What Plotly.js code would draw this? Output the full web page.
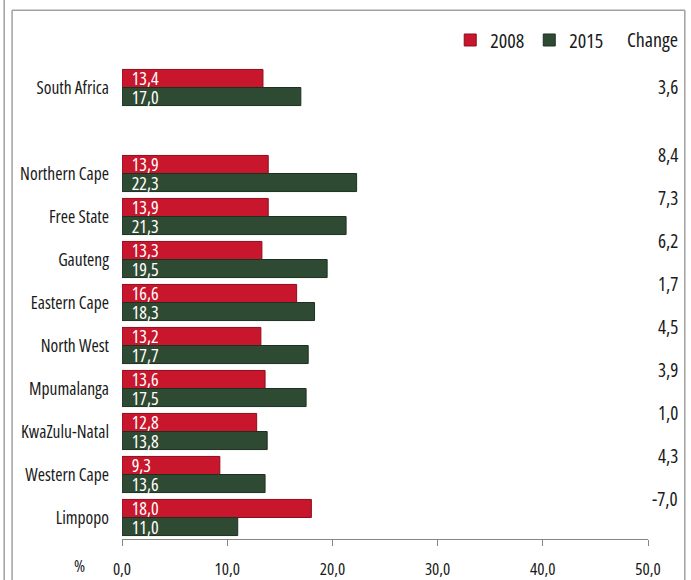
<!DOCTYPE html>
<html>
<head>
<meta charset="utf-8">
<script src="https://cdn.plot.ly/plotly-3.0.1.min.js"></script>
<style>
html,body{margin:0;padding:0;background:#fff;}
#chart{width:691px;height:580px;}
svg text{font-stretch:condensed !important;}
</style>
</head>
<body>
<div id="chart"></div>
<script>
// ---- data ----
const categories = ['South Africa', ' ', 'Northern Cape', 'Free State', 'Gauteng', 'Eastern Cape',
  'North West', 'Mpumalanga', 'KwaZulu-Natal', 'Western Cape', 'Limpopo'];
const regions = ['South Africa', 'Northern Cape', 'Free State', 'Gauteng', 'Eastern Cape',
  'North West', 'Mpumalanga', 'KwaZulu-Natal', 'Western Cape', 'Limpopo'];
const values2008 = [13.4, 13.9, 13.9, 13.3, 16.6, 13.2, 13.6, 12.8, 9.3, 18.0];
const values2015 = [17.0, 22.3, 21.3, 19.5, 18.3, 17.7, 17.5, 13.8, 13.6, 11.0];
const changeLabels = ['3,6', '8,4', '7,3', '6,2', '1,7', '4,5', '3,9', '1,0', '4,3', '-7,0'];
const seriesNames = ['2008', '2015'];
const xTicks = [0, 10, 20, 30, 40, 50];

const FONT = '"Open Sans", "Liberation Sans Narrow", sans-serif';
const textColor = '#1a1a1a';
const frameGray = '#a0a0a0';

const traces = [
  {name: seriesNames[0], values: values2008, color: '#c8162c', line: '#8e0d1d'},
  {name: seriesNames[1], values: values2015, color: '#2f4a32', line: '#1e3020'}
].map(s => ({
  type: 'bar',
  orientation: 'h',
  name: s.name,
  y: regions,
  x: s.values,
  marker: {color: s.color, line: {color: s.line, width: 1}},
  texttemplate: '\u00a0\u00a0%{x:.1f}',
  textposition: 'inside',
  insidetextanchor: 'start',
  constraintext: 'none',
  textfont: {family: FONT, size: 18, color: '#ffffff'},
  hoverinfo: 'none'
}));

const annotations = regions.map((r, i) => ({
  xref: 'paper', yref: 'y',
  x: 1.061, y: r,
  xanchor: 'right', yanchor: 'middle',
  yshift: i === 0 ? 1 : 19,
  text: changeLabels[i],
  showarrow: false,
  font: {family: FONT, size: 19, color: textColor}
}));
annotations.push({
  xref: 'paper', yref: 'paper', x: 1.061, y: 1.055,
  xanchor: 'right', yanchor: 'middle',
  text: 'Change', showarrow: false,
  font: {family: FONT, size: 20, color: textColor}
});
annotations.push({
  xref: 'paper', yref: 'paper', x: -0.08, y: -0.055,
  xanchor: 'center', yanchor: 'middle',
  text: '%', showarrow: false,
  font: {family: FONT, size: 17, color: textColor}
});

const shapes = [
  {type: 'line', xref: 'paper', yref: 'paper', x0: -0.209, x1: -0.209, y0: -0.2, y1: 1.118, line: {color: frameGray, width: 1.5}},
  {type: 'line', xref: 'paper', yref: 'paper', x0: -0.209, x1: 1.070, y0: 1.118, y1: 1.118, line: {color: frameGray, width: 1.5}},
  {type: 'line', xref: 'paper', yref: 'paper', x0: 1.070, x1: 1.070, y0: -0.2, y1: 1.118, line: {color: frameGray, width: 1.5}},
  {type: 'line', xref: 'paper', yref: 'paper', x0: -0.224, x1: -0.224, y0: -0.2, y1: 1.2, line: {color: frameGray, width: 1.5}}
];

const layout = {
  width: 691, height: 580,
  margin: {l: 122, r: 43, t: 66, b: 41, autoexpand: false},
  paper_bgcolor: '#ffffff', plot_bgcolor: '#ffffff',
  separators: ',.',
  barmode: 'group',
  bargap: 0.16,
  bargroupgap: 0,
  showlegend: true,
  legend: {
    orientation: 'h', x: 0.624, y: 1.055, xanchor: 'left', yanchor: 'middle',
    font: {family: FONT, size: 20, color: textColor},
    itemwidth: 30, tracegroupgap: 0, bgcolor: 'rgba(0,0,0,0)'
  },
  xaxis: {
    range: [0, 50],
    tickvals: xTicks,
    tickformat: '.1f',
    ticks: 'outside', ticklen: 6, tickcolor: '#868686',
    showline: true, linecolor: '#868686', linewidth: 1,
    showgrid: false, zeroline: false,
    tickfont: {family: FONT, size: 17, color: textColor},
    ticklabelstandoff: 9
  },
  yaxis: {
    type: 'category',
    categoryorder: 'array',
    categoryarray: categories,
    range: [10.5, -0.5],
    showline: false, showgrid: false, zeroline: false, ticks: '',
    tickfont: {family: FONT, size: 17.5, color: textColor},
    ticklabelstandoff: 12
  },
  annotations: annotations,
  shapes: shapes
};

Plotly.newPlot('chart', traces, layout, {displayModeBar: false, staticPlot: true});
</script>
</body>
</html>
